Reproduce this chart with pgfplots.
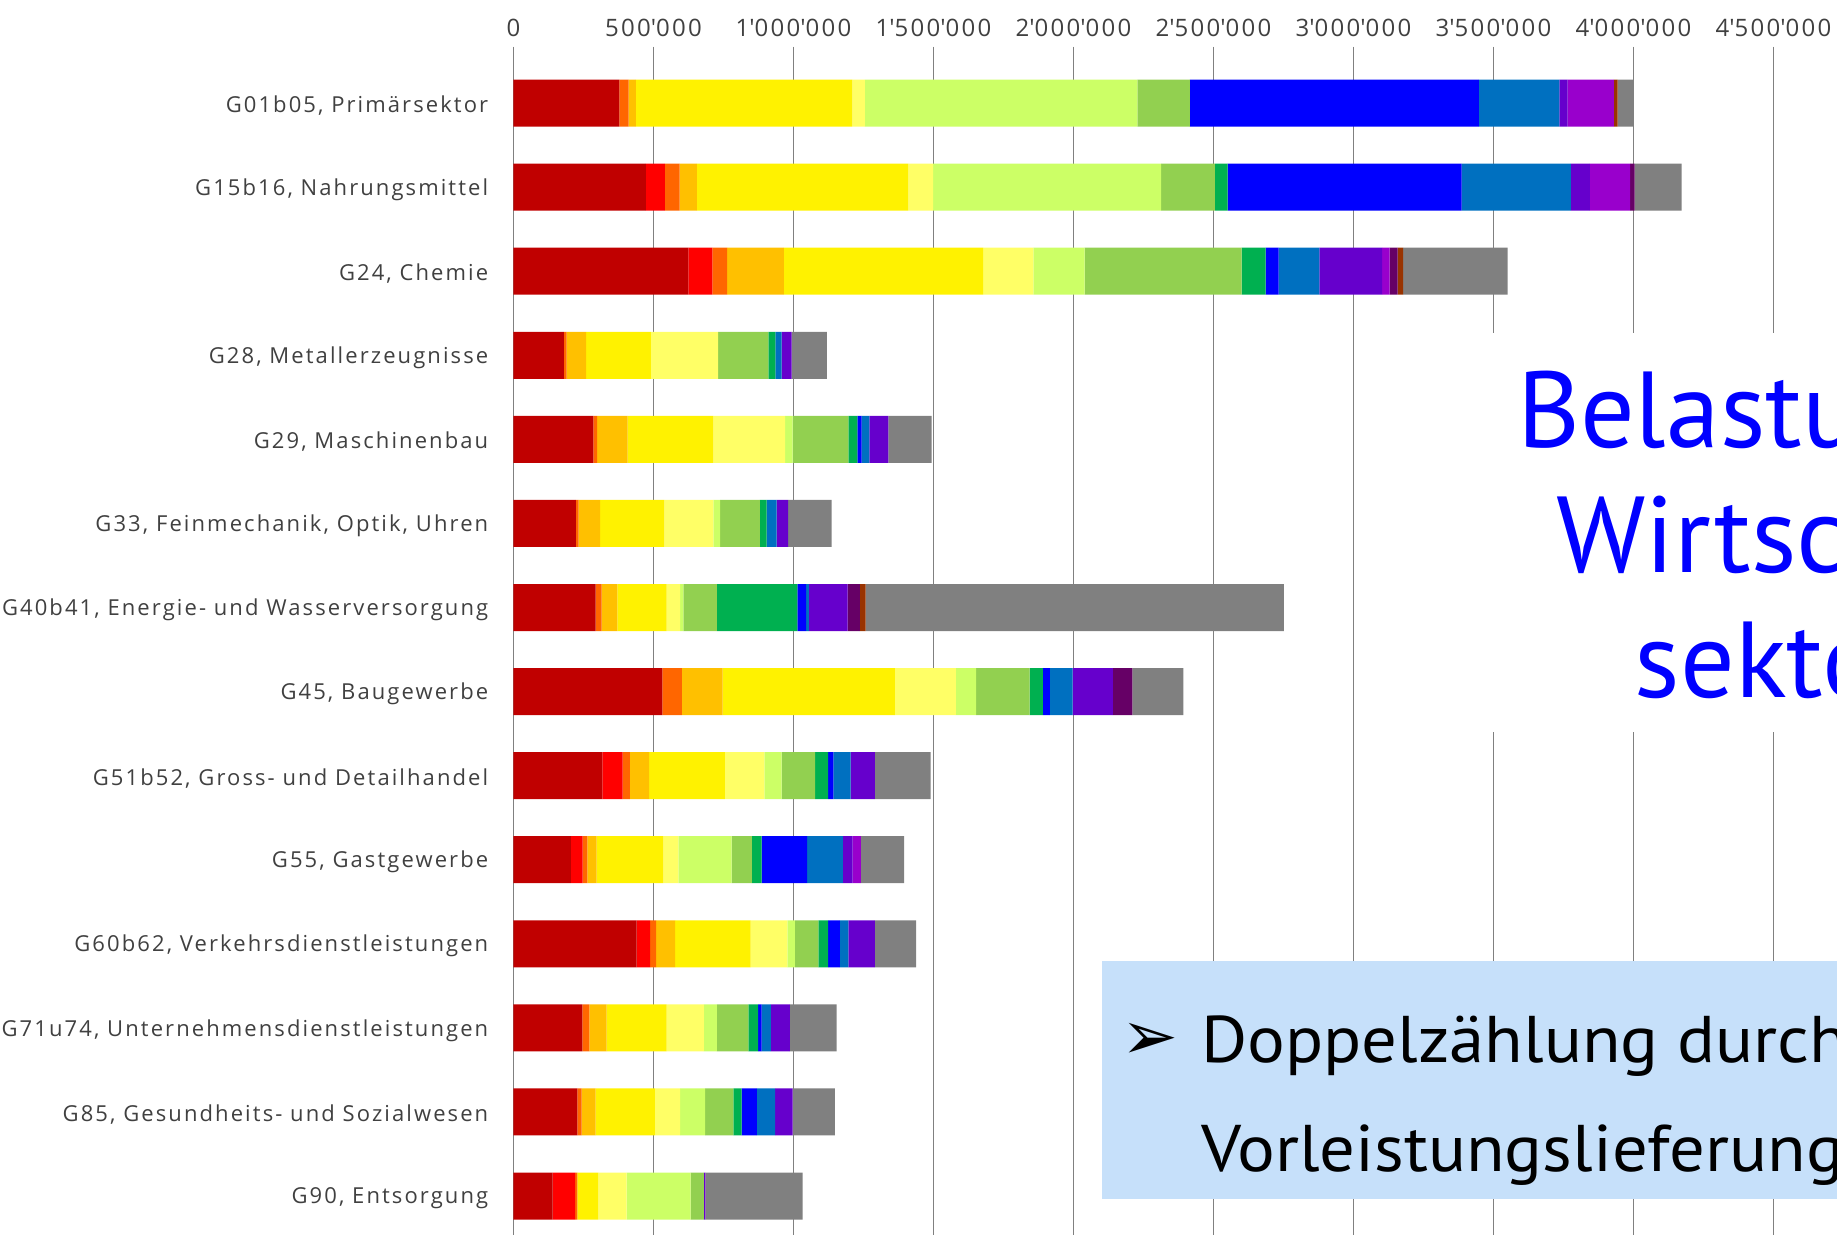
\documentclass[border=0pt]{standalone}
\usepackage{fontspec}
\setmainfont{Open Sans}
\newfontfamily\labfont[LetterSpace=9.5]{Open Sans}
\newfontfamily\slidefont{PT Sans}
\newfontfamily\boxfont[FakeStretch=1.07]{PT Sans}
\newfontfamily\symfont{DejaVu Sans}
\usepackage{pgfplots}
\pgfplotsset{compat=1.18}
\usepackage{pgfplotstable}

\definecolor{c1}{HTML}{C00000}
\definecolor{c2}{HTML}{FF0000}
\definecolor{c3}{HTML}{FF6600}
\definecolor{c4}{HTML}{FFC000}
\definecolor{c5}{HTML}{FFF200}
\definecolor{c6}{HTML}{FFFF66}
\definecolor{c7}{HTML}{CCFF66}
\definecolor{c8}{HTML}{92D050}
\definecolor{c9}{HTML}{00B050}
\definecolor{c10}{HTML}{0000FF}
\definecolor{c11}{HTML}{0070C0}
\definecolor{c12}{HTML}{6600CC}
\definecolor{c13}{HTML}{9900CC}
\definecolor{c14}{HTML}{660066}
\definecolor{c15}{HTML}{993300}
\definecolor{c16}{HTML}{808080}
\definecolor{gridgray}{HTML}{808080}
\definecolor{labgray}{HTML}{404040}
\definecolor{boxblue}{HTML}{C6E0FA}

% values in thousands
\pgfplotstableread{
y  s1  s2  s3  s4  s5  s6  s7  s8  s9  s10  s11 s12 s13 s14 s15 s16
0  378 0   33  26  773 45  973 188 0   1032 287 30  165 0   13  58
1  473 68  52  62  755 89  814 192 45  836  390 68  144 16  0   168
2  625 85  53  203 711 180 183 560 86  47   145 224 27  29  19  373
3  180 0   10  69  232 240 0   179 25  0    23  35  0   0   0   126
4  285 0   14  109 306 256 27  199 32  15   28  68  0   0   0   154
5  223 0   10  76  230 175 24  142 24  0    36  41  0   0   0   155
6  293 0   22  56  176 48  12  119 288 31   10  138 0   44  21  1493
7  532 0   69  146 615 218 72  191 48  25   81  144 0   69  0   182
8  317 73  26  68  271 141 62  119 47  18   62  87  0   0   0   199
9  205 42  17  33  238 54  190 72  35  163  127 35  30  0   0   154
10 440 48  21  68  270 131 27  84  35  42   30  95  0   0   0   147
11 246 0   25  62  214 133 46  113 35  12   33  68  0   0   0   167
12 228 0   15  50  212 90  89  101 30  54   65  63  0   0   0   151
13 140 80  8   0   75  101 229 47  0   0    0   5   0   0   0   348
}\data

\begin{document}
\begin{tikzpicture}
\useasboundingbox (0,0) rectangle (918.5pt,617.5pt);
\clip (0,0) rectangle (918.5pt,617.5pt);
\begin{axis}[
  at={(256.75pt,594.15pt)}, anchor=north west,
  scale only axis, width=672pt, height=599.9pt,
  xbar stacked, bar width=23.5pt,
  xmin=0, xmax=4800, ymin=-0.67, ymax=13.6, y dir=reverse,
  axis line style={draw=none},
  major tick length=0pt,
  xtick={0,500,1000,1500,2000,2500,3000,3500,4000,4500},
  xticklabels={0,500\textquotesingle000,1\textquotesingle000\textquotesingle000,1\textquotesingle500\textquotesingle000,2\textquotesingle000\textquotesingle000,2\textquotesingle500\textquotesingle000,3\textquotesingle000\textquotesingle000,3\textquotesingle500\textquotesingle000,4\textquotesingle000\textquotesingle000,4\textquotesingle500\textquotesingle000},
  xticklabel pos=upper,
  xmajorgrids,
  grid style={draw=gridgray, line width=0.8pt},
  ytick={0,1,2,3,4,5,6,7,8,9,10,11,12,13},
  yticklabels={{G01b05, Primärsektor},{G15b16, Nahrungsmittel},{G24, Chemie},{G28, Metallerzeugnisse},{G29, Maschinenbau},{G33, Feinmechanik, Optik, Uhren},{G40b41, Energie- und Wasserversorgung},{G45, Baugewerbe},{G51b52, Gross- und Detailhandel},{G55, Gastgewerbe},{G60b62, Verkehrsdienstleistungen},{G71u74, Unternehmensdienstleistungen},{G85, Gesundheits- und Sozialwesen},{G90, Entsorgung}},
  xticklabel style={font=\labfont\fontsize{12pt}{12pt}\selectfont, text=labgray, anchor=base, inner sep=0pt, yshift=4.9pt},
  yticklabel style={font=\labfont\fontsize{11pt}{11pt}\selectfont, text=labgray, anchor=east, inner sep=0pt, xshift=-12.45pt, yshift=-1.2pt},
]
\pgfplotsinvokeforeach{1,...,16}{
  \addplot[fill=c#1, draw=none] table[x=s#1, y=y]{\data};
}
\end{axis}
% slide overlays
\fill[white] (720pt,251.5pt) rectangle (920pt,451pt);
\node[anchor=base west, inner sep=0pt, text=blue, font=\slidefont\fontsize{54pt}{54pt}\selectfont] at (758.3pt,393.65pt) {Belastung};
\node[anchor=base west, inner sep=0pt, text=blue, font=\slidefont\fontsize{54pt}{54pt}\selectfont] at (778pt,331.15pt) {Wirtschafts};
\node[anchor=base west, inner sep=0pt, text=blue, font=\slidefont\fontsize{54pt}{54pt}\selectfont] at (817.2pt,268.85pt) {sektoren};
\fill[boxblue] (551pt,18pt) rectangle (920pt,137pt);
\node[anchor=center, inner sep=0pt, font=\symfont\fontsize{34pt}{34pt}\selectfont] at (575pt,97pt) {➢};
\node[anchor=base west, inner sep=0pt, font=\boxfont\fontsize{33pt}{33pt}\selectfont] at (600.4pt,86pt) {Doppelzählung durch};
\node[anchor=base west, inner sep=0pt, font=\boxfont\fontsize{33pt}{33pt}\selectfont] at (600.4pt,31.5pt) {Vorleistungslieferung};
\end{tikzpicture}
\end{document}
